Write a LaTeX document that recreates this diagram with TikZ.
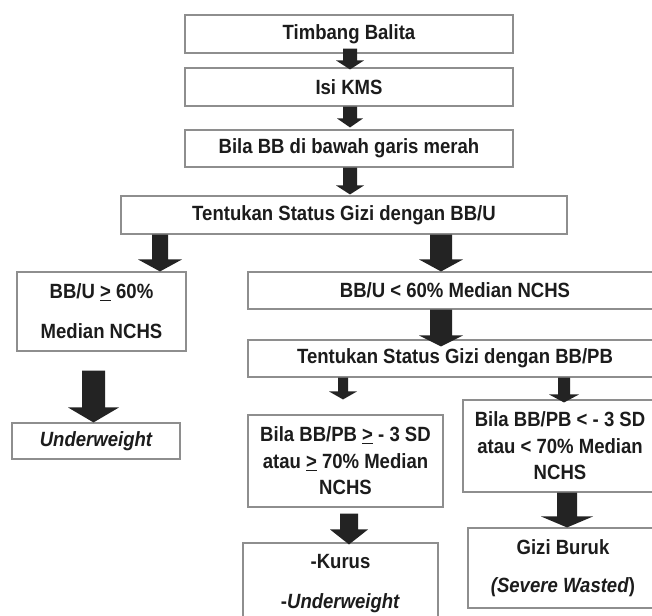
\documentclass[tikz,border=0pt]{standalone}
\usepackage{fontspec}
\setmainfont{Liberation Sans}[FakeStretch=0.9]
\usetikzlibrary{calc}
\definecolor{ink}{HTML}{1C1C1C}
\definecolor{frame}{HTML}{8E8E8E}
\definecolor{arrowink}{HTML}{232323}

% Block arrow between two node anchors.
% #1 from anchor, #2 to anchor, #3 x position (bp), #4 start offset (down),
% #5 tip offset (down), #6 shaft half width, #7 head half width, #8 head length
\newcommand{\blockarrow}[8]{%
  \fill[arrowink] let \p1=(#1), \p2=(#2) in
    ({#3bp-#6bp},{\y1-(#4bp)}) -- ({#3bp+#6bp},{\y1-(#4bp)})
    -- ({#3bp+#6bp},{\y2-(#5bp)+#8bp}) -- ({#3bp+#7bp},{\y2-(#5bp)+#8bp})
    -- ({#3bp},{\y2-(#5bp)})
    -- ({#3bp-#7bp},{\y2-(#5bp)+#8bp}) -- ({#3bp-#6bp},{\y2-(#5bp)+#8bp}) -- cycle;}

\tikzset{
  box/.style={draw=frame, line width=1.1bp, fill=white, inner sep=0pt,
    text=ink, align=center, font=\fontsize{20.6bp}{22bp}\selectfont\bfseries},
  wide/.style={box, font=\fontsize{20.6bp}{40bp}\selectfont\bfseries},
  tight/.style={box, font=\fontsize{20.6bp}{26.5bp}\selectfont\bfseries},
}

\begin{document}
\begin{tikzpicture}[x=1bp,y=-1bp]
\useasboundingbox (0,0) rectangle (652,616);
\clip (0,0) rectangle (652,616);

% main chain
\node[box, minimum width=328bp, minimum height=38bp] (b1) at (349,34) {Timbang Balita};
\node[box, minimum width=328bp, minimum height=38bp] (b2) at (349,87) {Isi KMS};
\node[box, minimum width=328bp, minimum height=37bp] (b3) at (349,148.5) {Bila BB di bawah garis merah};
\node[box, minimum width=446bp, minimum height=38bp] (b4) at (344,215) {Tentukan Status Gizi dengan BB/U};

% left branch
\node[wide, minimum width=169bp, minimum height=79bp] (b5) at (101.5,311.5) {BB/U \underline{>} 60\%\\Median NCHS};
\node[box, minimum width=168bp, minimum height=36bp] (b6) at (96,441) {\itshape Underweight};

% right branch
\node[box, minimum width=414bp, minimum height=37bp] (b7) at (455,290.5) {BB/U < 60\% Median NCHS};
\node[box, minimum width=414bp, minimum height=37bp] (b8) at (455,358.5) {Tentukan Status Gizi dengan BB/PB};
\node[tight, minimum width=195bp, minimum height=92bp] (b9) at (345.5,461) {Bila BB/PB \underline{>} - 3 SD\\atau \underline{>} 70\% Median\\NCHS};
\node[tight, minimum width=194bp, minimum height=92bp] (b10) at (560,446) {Bila BB/PB < - 3 SD\\atau < 70\% Median\\NCHS};
\node[wide, minimum width=195bp, minimum height=82bp] (b11) at (340.5,584) {-Kurus\\-\textit{Underweight}};
\node[box, font=\fontsize{20.6bp}{38bp}\selectfont\bfseries, minimum width=190bp, minimum height=80bp] (b12) at (563,568) {Gizi Buruk\\\textit{(Severe Wasted})};

% arrows
\blockarrow{b1.south}{b2.north}{350}{-5}{2}{7}{14}{9}
\blockarrow{b2.south}{b3.north}{350}{0}{-2}{7}{13}{9}
\blockarrow{b3.south}{b4.north}{350}{0}{-1}{7}{14}{9}
\blockarrow{b4.south}{b5.north}{160}{0}{0}{8}{22}{12}
\blockarrow{b4.south}{b7.north}{441}{0}{0}{11}{22}{12}
\blockarrow{b7.south}{b8.north}{441}{0}{7}{11}{22}{11}
\blockarrow{b5.south}{b6.north}{93.5}{19}{0}{11.5}{25.5}{15}
\blockarrow{b8.south}{b9.north}{343}{0}{-15}{5}{14}{8}
\blockarrow{b8.south}{b10.north}{564}{0}{3}{6}{15}{8}
\blockarrow{b9.south}{b11.north}{349}{6}{2}{9}{19}{15}
\blockarrow{b10.south}{b12.north}{567}{0}{0}{10}{26}{11}
\end{tikzpicture}
\end{document}
